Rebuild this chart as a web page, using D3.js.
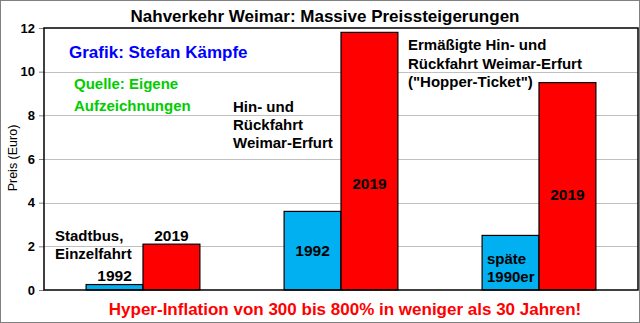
<!DOCTYPE html>
<html>
<head>
<meta charset="utf-8">
<script src="https://cdn.jsdelivr.net/npm/d3@7"></script>
<style>
  html, body { margin: 0; padding: 0; background: #fff; }
  svg { display: block; font-family: "Liberation Sans", Arial, sans-serif; }
</style>
</head>
<body>
<svg id="chart" width="640" height="323"></svg>
<script>
// Ticket categories and fares (Euro)
const categories = ["Stadtbus", "Hin- und Rückfahrt", "Hopper-Ticket"];
const years = ["1992", "2019"];
const fares1992 = [0.25, 3.6, 2.5];
const fares2019 = [2.1, 11.8, 9.5];
const yTicks = [0, 2, 4, 6, 8, 10, 12];

const W = 640, H = 323;
const margin = { top: 28, right: 2, bottom: 33, left: 44 };

const svg = d3.select("#chart");

// outer frame
svg.append("rect")
  .attr("x", 0.5).attr("y", 0.5)
  .attr("width", W - 1).attr("height", H - 1)
  .attr("fill", "#fff").attr("stroke", "#808080");

const x0 = d3.scaleBand()
  .domain(categories)
  .range([margin.left, W - margin.right])
  .paddingInner(0).paddingOuter(0);

const x1 = d3.scaleBand()
  .domain(years)
  .range([0, x0.bandwidth()])
  .paddingInner(0).paddingOuter(0.74);

const y = d3.scaleLinear()
  .domain([0, 12])
  .range([H - margin.bottom, margin.top]);

// horizontal grid
svg.append("g")
  .selectAll("line")
  .data(yTicks.filter(d => d > 0 && d < 12))
  .join("line")
  .attr("x1", margin.left).attr("x2", W - margin.right)
  .attr("y1", d => Math.round(y(d)) + 0.5).attr("y2", d => Math.round(y(d)) + 0.5)
  .attr("stroke", "#c0c0c0").attr("stroke-width", 1);

// y axis
const yAxis = svg.append("g")
  .attr("transform", `translate(${margin.left},0)`)
  .call(d3.axisLeft(y).tickValues(yTicks).tickSize(5).tickPadding(4).tickSizeOuter(0));
yAxis.select(".domain").remove();
yAxis.selectAll(".tick line").attr("stroke", "#808080");
yAxis.selectAll(".tick text")
  .attr("font-family", "Liberation Sans, Arial, sans-serif")
  .attr("font-size", 13).attr("font-weight", "bold").attr("fill", "#000");

// bars
const rows = categories.map((c, i) => ({ cat: c, vals: [
  { year: "1992", v: fares1992[i] },
  { year: "2019", v: fares2019[i] }
]}));
const colors = { "1992": "#00b0f0", "2019": "#ff0000" };

svg.append("g")
  .selectAll("g")
  .data(rows)
  .join("g")
  .attr("transform", d => `translate(${x0(d.cat)},0)`)
  .selectAll("rect")
  .data(d => d.vals)
  .join("rect")
  .attr("x", d => x1(d.year))
  .attr("y", d => y(d.v))
  .attr("width", x1.bandwidth())
  .attr("height", d => y(0) - y(d.v))
  .attr("fill", d => colors[d.year])
  .attr("stroke", "#000").attr("stroke-width", 1.2);

// plot frame
svg.append("rect")
  .attr("x", margin.left).attr("y", margin.top)
  .attr("width", W - margin.right - margin.left)
  .attr("height", y(0) - margin.top)
  .attr("fill", "none").attr("stroke", "#000").attr("stroke-width", 1.5);

// y label
svg.append("text")
  .attr("transform", `translate(17,158) rotate(-90)`)
  .attr("text-anchor", "middle")
  .attr("font-size", 12.5)
  .text("Preis (Euro)");

// title
svg.append("text")
  .attr("x", 325).attr("y", 22)
  .attr("text-anchor", "middle")
  .attr("font-size", 17).attr("font-weight", "bold")
  .text("Nahverkehr Weimar: Massive Preissteigerungen");

// footer
svg.append("text")
  .attr("x", 345).attr("y", 315)
  .attr("text-anchor", "middle")
  .attr("font-size", 17).attr("font-weight", "bold").attr("fill", "#ff0000")
  .text("Hyper-Inflation von 300 bis 800% in weniger als 30 Jahren!");

// free annotations
function lines(xp, yp, arr, size, color, gap) {
  arr.forEach((t, i) => {
    svg.append("text")
      .attr("x", xp).attr("y", yp + i * gap)
      .attr("font-size", size).attr("font-weight", "bold")
      .attr("fill", color).text(t);
  });
}
lines(69, 58, ["Grafik: Stefan Kämpfe"], 17, "#0000ff", 0);
lines(74, 89, ["Quelle: Eigene", "Aufzeichnungen"], 15, "#00cc00", 22);
lines(233, 112, ["Hin- und", "Rückfahrt", "Weimar-Erfurt"], 15, "#000", 18);
lines(408, 50, ["Ermäßigte Hin- und", "Rückfahrt Weimar-Erfurt", "(\"Hopper-Ticket\")"], 15, "#000", 18.5);
lines(55, 241, ["Stadtbus,", "Einzelfahrt"], 15, "#000", 18);
lines(487, 264, ["späte", "1990er"], 15, "#000", 18);

// year labels tied to bar values
function barLabel(catIdx, year, val, dy) {
  svg.append("text")
    .attr("x", x0(categories[catIdx]) + x1(year) + x1.bandwidth() / 2)
    .attr("y", y(val) + dy)
    .attr("text-anchor", "middle")
    .attr("font-size", 15.5).attr("font-weight", "bold")
    .text(year);
}
barLabel(0, "1992", fares1992[0], -4);
barLabel(0, "2019", fares2019[0], -3);
barLabel(1, "1992", fares1992[1], 45);
barLabel(1, "2019", fares2019[1], 157);
barLabel(2, "2019", fares2019[2], 117);
</script>
</body>
</html>
